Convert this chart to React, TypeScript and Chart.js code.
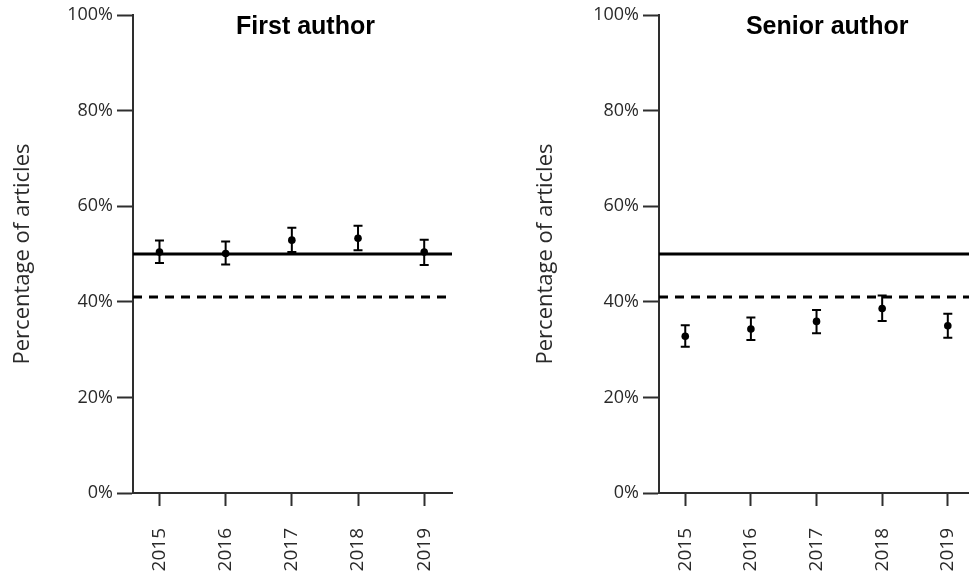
import React, { useEffect, useRef } from "react";
import { Chart, registerables } from "chart.js";

Chart.register(...registerables);

const years = [2015, 2016, 2017, 2018, 2019];
const yTicks = [0, 20, 40, 60, 80, 100];

const firstAuthorPct = [50.4, 50.1, 52.9, 53.3, 50.4];
const firstAuthorLow = [48.1, 47.8, 50.4, 50.8, 47.7];
const firstAuthorHigh = [52.8, 52.6, 55.5, 55.9, 53.0];

const seniorAuthorPct = [32.8, 34.3, 35.9, 38.6, 35.0];
const seniorAuthorLow = [30.6, 32.0, 33.4, 36.0, 32.5];
const seniorAuthorHigh = [35.1, 36.7, 38.3, 41.3, 37.5];

const parityLine = 50;
const baselineLine = 41;

const X_MIN = 2014.6;
const X_MAX = 2019.42;

const AXIS_COLOR = "#2e2e2e";
const TEXT_COLOR = "#2a2a2a";

type PanelProps = {
  title: string;
  pct: number[];
  low: number[];
  high: number[];
  width: number;
  height: number;
  areaLeft: number;
  areaRightPad: number;
  areaTop: number;
  areaBottom: number;
  titleOffset: number;
  yTitlePad: number;
};

function Panel(props: PanelProps) {
  const ref = useRef<HTMLCanvasElement | null>(null);
  useEffect(() => {
    if (!ref.current) return;
    const { pct, low, high } = props;

    const errorBars = {
      id: "errorBars",
      afterDatasetsDraw(chart: any) {
        const { ctx, scales } = chart;
        const xs = scales.x;
        const ys = scales.y;
        ctx.save();
        ctx.strokeStyle = "#000";
        ctx.lineWidth = 2;
        years.forEach((yr, i) => {
          const x = xs.getPixelForValue(yr);
          const yl = ys.getPixelForValue(low[i]);
          const yh = ys.getPixelForValue(high[i]);
          ctx.beginPath();
          ctx.moveTo(x, yl);
          ctx.lineTo(x, yh);
          ctx.moveTo(x - 4.5, yl);
          ctx.lineTo(x + 4.5, yl);
          ctx.moveTo(x - 4.5, yh);
          ctx.lineTo(x + 4.5, yh);
          ctx.stroke();
        });
        ctx.restore();
      },
    };

    const panelTitle = {
      id: "panelTitle",
      afterDraw(chart: any) {
        const { ctx, chartArea } = chart;
        ctx.save();
        ctx.font = "bold 25px 'Liberation Sans', Arial, sans-serif";
        ctx.fillStyle = "#000";
        ctx.textAlign = "center";
        ctx.textBaseline = "alphabetic";
        ctx.fillText(
          props.title,
          (chartArea.left + chartArea.right) / 2 + props.titleOffset,
          chartArea.top + 19
        );
        ctx.restore();
      },
    };

    const chart = new Chart(ref.current, {
      type: "scatter",
      data: {
        datasets: [
          {
            type: "line",
            data: [
              { x: X_MIN, y: parityLine },
              { x: X_MAX, y: parityLine },
            ],
            borderColor: "#000",
            borderWidth: 3,
            pointRadius: 0,
            fill: false,
          },
          {
            type: "line",
            data: [
              { x: X_MIN, y: baselineLine },
              { x: X_MAX - 0.05, y: baselineLine },
            ],
            borderColor: "#000",
            borderWidth: 3,
            borderDash: [9, 7],
            pointRadius: 0,
            fill: false,
          },
          {
            type: "scatter",
            data: years.map((yr, i) => ({ x: yr, y: pct[i] })),
            backgroundColor: "#000",
            borderColor: "#000",
            pointRadius: 3.8,
            pointBorderWidth: 0,
          },
        ],
      },
      options: {
        animation: false,
        responsive: false,
        maintainAspectRatio: false,
        layout: {
          padding: {
            left: 0,
            top: props.areaTop,
            right: props.areaRightPad,
            bottom: 0,
          },
        },
        plugins: {
          legend: { display: false },
          tooltip: { enabled: false },
          title: { display: false },
        },
        scales: {
          x: {
            type: "linear",
            min: X_MIN,
            max: X_MAX,
            afterBuildTicks: (scale: any) => {
              scale.ticks = years.map((v) => ({ value: v }));
            },
            afterFit: (scale: any) => {
              scale.height = props.height - props.areaBottom;
            },
            grid: {
              display: true,
              drawOnChartArea: false,
              drawTicks: true,
              tickLength: 13,
              tickWidth: 2,
              tickColor: AXIS_COLOR,
            },
            border: { display: true, color: AXIS_COLOR, width: 2 },
            ticks: {
              autoSkip: false,
              minRotation: 90,
              maxRotation: 90,
              padding: 22,
              color: TEXT_COLOR,
              font: { family: "'Open Sans'", size: 19 },
              callback: (v: any) => String(v),
            },
          },
          y: {
            type: "linear",
            min: 0,
            max: 100,
            afterBuildTicks: (scale: any) => {
              scale.ticks = yTicks.map((v) => ({ value: v }));
            },
            afterFit: (scale: any) => {
              scale.width = props.areaLeft;
            },
            grid: {
              display: true,
              drawOnChartArea: false,
              drawTicks: true,
              tickLength: 16,
              tickWidth: 2,
              tickColor: AXIS_COLOR,
            },
            border: { display: true, color: AXIS_COLOR, width: 2 },
            ticks: {
              padding: 4,
              color: TEXT_COLOR,
              font: { family: "'Open Sans'", size: 18 },
              callback: (v: any) => v + "%",
            },
            title: {
              display: true,
              text: "Percentage of articles",
              color: TEXT_COLOR,
              font: { family: "'Open Sans'", size: 22 },
              padding: { top: props.yTitlePad, bottom: 0 },
            },
          },
        },
      },
      plugins: [errorBars, panelTitle],
    } as any);
    return () => chart.destroy();
  }, []);
  return (
    <canvas
      ref={ref}
      width={props.width}
      height={props.height}
      style={{ width: props.width, height: props.height, display: "block" }}
    />
  );
}

export default function App() {
  return (
    <div
      style={{
        position: "absolute",
        left: 0,
        top: 0,
        width: 969,
        height: 581,
        overflow: "hidden",
        background: "#fff",
      }}
    >
      <div style={{ position: "absolute", left: 0, top: 0 }}>
        <Panel
          title="First author"
          pct={firstAuthorPct}
          low={firstAuthorLow}
          high={firstAuthorHigh}
          width={484}
          height={581}
          areaLeft={133}
          areaRightPad={32}
          areaTop={15}
          areaBottom={493}
          titleOffset={13}
          yTitlePad={10}
        />
      </div>
      <div style={{ position: "absolute", left: 484, top: 0 }}>
        <Panel
          title="Senior author"
          pct={seniorAuthorPct}
          low={seniorAuthorLow}
          high={seniorAuthorHigh}
          width={510}
          height={581}
          areaLeft={175}
          areaRightPad={16}
          areaTop={15}
          areaBottom={493}
          titleOffset={10}
          yTitlePad={49}
        />
      </div>
    </div>
  );
}
